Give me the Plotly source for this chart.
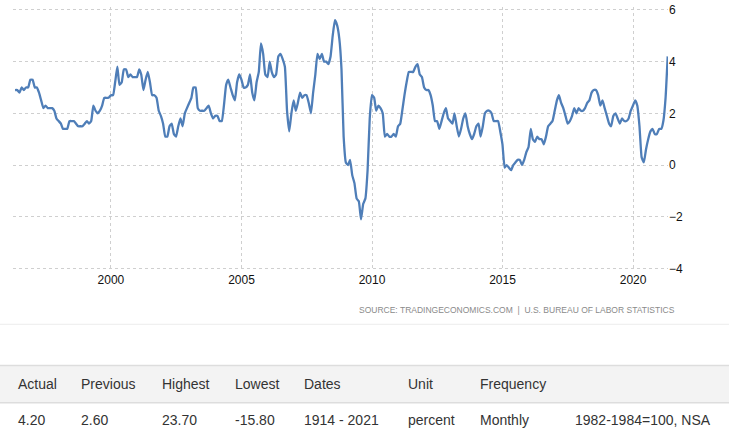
import pandas as pd
import plotly.graph_objects as go

# US CPI inflation rate, year over year %, monthly from Apr 1996 to Apr 2021
first_month = "1996-04-01"
cpi_yoy = [
    2.9, 2.9, 2.8, 3.0, 2.9, 3.0, 3.0, 3.3, 3.3,                      # 1996 Apr-Dec
    3.0, 3.0, 2.8, 2.5, 2.2, 2.3, 2.2, 2.2, 2.2, 2.1, 1.8, 1.7,      # 1997
    1.6, 1.4, 1.4, 1.4, 1.7, 1.7, 1.7, 1.6, 1.5, 1.5, 1.5, 1.6,      # 1998
    1.7, 1.6, 1.7, 2.3, 2.1, 2.0, 2.1, 2.3, 2.6, 2.6, 2.6, 2.7,      # 1999
    2.7, 3.2, 3.8, 3.1, 3.2, 3.7, 3.7, 3.4, 3.5, 3.4, 3.4, 3.4,      # 2000
    3.7, 3.5, 2.9, 3.3, 3.6, 3.2, 2.7, 2.7, 2.6, 2.1, 1.9, 1.6,      # 2001
    1.1, 1.1, 1.5, 1.6, 1.2, 1.1, 1.5, 1.8, 1.5, 2.0, 2.2, 2.4,      # 2002
    2.6, 3.0, 3.0, 2.2, 2.1, 2.1, 2.1, 2.2, 2.3, 2.0, 1.8, 1.9,      # 2003
    1.9, 1.7, 1.7, 2.3, 3.1, 3.3, 3.0, 2.7, 2.5, 3.2, 3.5, 3.3,      # 2004
    3.0, 3.0, 3.1, 3.5, 2.8, 2.5, 3.2, 3.6, 4.7, 4.3, 3.5, 3.4,      # 2005
    4.0, 3.6, 3.4, 3.5, 4.2, 4.3, 4.1, 3.8, 2.1, 1.3, 2.0, 2.5,      # 2006
    2.1, 2.4, 2.8, 2.6, 2.7, 2.7, 2.4, 2.0, 2.8, 3.5, 4.3, 4.1,      # 2007
    4.3, 4.0, 4.0, 3.9, 4.2, 5.0, 5.6, 5.4, 4.9, 3.7, 1.1, 0.1,      # 2008
    0.0, 0.2, -0.4, -0.7, -1.3, -1.4, -2.1, -1.5, -1.3, -0.2, 1.8, 2.7,  # 2009
    2.6, 2.1, 2.3, 2.2, 2.0, 1.1, 1.2, 1.1, 1.1, 1.2, 1.1, 1.5,      # 2010
    1.6, 2.1, 2.7, 3.2, 3.6, 3.6, 3.6, 3.8, 3.9, 3.5, 3.4, 3.0,      # 2011
    2.9, 2.9, 2.7, 2.3, 1.7, 1.7, 1.4, 1.7, 2.0, 2.2, 1.8, 1.7,      # 2012
    1.6, 2.0, 1.5, 1.1, 1.4, 1.8, 2.0, 1.5, 1.2, 1.0, 1.2, 1.5,      # 2013
    1.6, 1.1, 1.5, 2.0, 2.1, 2.1, 2.0, 1.7, 1.7, 1.7, 1.3, 0.8,      # 2014
    -0.1, 0.0, -0.1, -0.2, 0.0, 0.1, 0.2, 0.2, 0.0, 0.2, 0.5, 0.7,  # 2015
    1.4, 1.0, 0.9, 1.1, 1.0, 1.0, 0.8, 1.1, 1.5, 1.6, 1.7, 2.1,      # 2016
    2.5, 2.7, 2.4, 2.2, 1.9, 1.6, 1.7, 1.9, 2.2, 2.0, 2.2, 2.1,      # 2017
    2.1, 2.2, 2.4, 2.5, 2.8, 2.9, 2.9, 2.7, 2.3, 2.5, 2.2, 1.9,      # 2018
    1.6, 1.5, 1.9, 2.0, 1.8, 1.6, 1.8, 1.7, 1.7, 1.8, 2.1, 2.3,      # 2019
    2.5, 2.3, 1.5, 0.3, 0.1, 0.6, 1.0, 1.3, 1.4, 1.2, 1.2, 1.4,      # 2020
    1.4, 1.7, 2.6, 4.2,                                              # 2021 Jan-Apr
]

x_tick_years = [2000, 2005, 2010, 2015, 2020]
y_ticks = [-4, -2, 0, 2, 4, 6]

source_text = "SOURCE: TRADINGECONOMICS.COM  |  U.S. BUREAU OF LABOR STATISTICS"
header_labels = ["Actual", "Previous", "Highest", "Lowest", "Dates", "Unit", "Frequency", ""]
row_values = ["4.20", "2.60", "23.70", "-15.80", "1914 - 2021", "percent", "Monthly", "1982-1984=100, NSA"]

W, H = 729, 439
col_x = [16, 79, 160, 233, 302, 406, 478, 573]


def px(x):
    return x / W


def py(y):
    return 1 - y / H


dates = pd.date_range(first_month, periods=len(cpi_yoy), freq="MS") + pd.offsets.MonthEnd(0)

fig = go.Figure()
fig.add_trace(go.Scatter(
    x=dates,
    y=cpi_yoy,
    mode="lines",
    line=dict(color="#4f7eb8", width=2.3, shape="spline", smoothing=0.4),
    hoverinfo="x+y",
))

grid = dict(showgrid=True, gridcolor="#cfcfcf", griddash="dot", gridwidth=1)

# 6 sits at y=6px and -4 at y=270px; pad the range a little so both end gridlines are drawn
unit_px = (270 - 6) / 10
pad = 0.1
fig.update_layout(
    width=W,
    height=H,
    margin=dict(l=0, r=0, t=0, b=0),
    paper_bgcolor="white",
    plot_bgcolor="white",
    showlegend=False,
    font=dict(family="Arial, Liberation Sans, sans-serif", color="#222"),
    xaxis=dict(
        domain=[px(13), px(668)],
        range=["1996-04-01", "2021-05-04"],
        tickvals=[f"{y}-01-01" for y in x_tick_years],
        ticktext=[str(y) for y in x_tick_years],
        tickfont=dict(size=12, color="#111"),
        ticks="",
        zeroline=False,
        showline=False,
        **grid,
    ),
    yaxis=dict(
        domain=[py(270 + pad * unit_px), py(6 - pad * unit_px)],
        range=[-4 - pad, 6 + pad],
        side="right",
        tickvals=y_ticks,
        tickfont=dict(size=12, color="#111"),
        ticks="",
        ticklabeloverflow="allow",
        zeroline=False,
        showline=False,
        **grid,
    ),
)

shapes = [
    # thin separator under the chart
    dict(type="line", xref="paper", yref="paper", x0=0, x1=1, y0=py(327), y1=py(327),
         line=dict(color="#ececec", width=1)),
    # table header band
    dict(type="rect", xref="paper", yref="paper", x0=0, x1=1, y0=py(407), y1=py(369),
         fillcolor="#f3f3f3", line=dict(width=0), layer="below"),
    dict(type="line", xref="paper", yref="paper", x0=0, x1=1, y0=py(369), y1=py(369),
         line=dict(color="#dddddd", width=1.5)),
    dict(type="line", xref="paper", yref="paper", x0=0, x1=1, y0=py(407), y1=py(407),
         line=dict(color="#dddddd", width=1.5)),
]

annotations = [
    dict(text=source_text, xref="paper", yref="paper", x=px(677), y=py(312),
         xanchor="right", yanchor="middle", showarrow=False,
         font=dict(size=8.5, color="#8a8a8a", family="Arial, Liberation Sans, sans-serif")),
]
for cx, head, val in zip(col_x, header_labels, row_values):
    if head:
        annotations.append(dict(text=head, xref="paper", yref="paper", x=px(cx), y=py(388),
                                xanchor="left", yanchor="middle", showarrow=False,
                                font=dict(size=14, color="#333")))
    annotations.append(dict(text=val, xref="paper", yref="paper", x=px(cx), y=py(425),
                            xanchor="left", yanchor="middle", showarrow=False,
                            font=dict(size=14, color="#333")))

fig.update_layout(shapes=shapes, annotations=annotations)

# no page margin, and let the figure fill the whole window height
page_fix = (
    "document.documentElement.style.margin='0';"
    "document.documentElement.style.overflow='hidden';"
    "document.body.style.margin='0';"
    "document.body.style.overflow='hidden';"
    "var gd=document.getElementById('{plot_id}');"
    "var h=window.innerHeight;"
    "if(h>300&&h<700&&h!==439){Plotly.relayout(gd,{height:h});}"
)
fig.write_html("out.html", config={"displayModeBar": False}, post_script=page_fix)
